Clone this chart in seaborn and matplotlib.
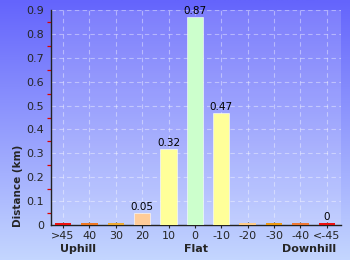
import numpy as np
import pandas as pd
import matplotlib
matplotlib.use("Agg")
import matplotlib.pyplot as plt
import seaborn as sns
from matplotlib.colors import LinearSegmentedColormap
from matplotlib.ticker import MultipleLocator, FixedLocator

categories = [">45", "40", "30", "20", "10", "0", "-10", "-20", "-30", "-40", "<-45"]
distances = [0.01, 0.01, 0.01, 0.05, 0.32, 0.87, 0.47, 0.008, 0.01, 0.01, 0.01]
bar_colors = ["#ee1111", "#ee7722", "#eeaa33", "#ffcc99", "#ffff99", "#ccffcc",
              "#ffff99", "#ffcc88", "#ee9911", "#ee7733", "#ee1111"]
labels_shown = {"20": "0.05", "10": "0.32", "0": "0.87", "-10": "0.47", "<-45": "0"}
group_labels = ["Uphill", "Flat", "Downhill"]

sns.set_style("white")
plt.rcParams['font.family'] = ['DejaVu Sans']

fig = plt.figure(figsize=(3.5, 2.6), dpi=100)

# background gradient
bg = fig.add_axes([0, 0, 1, 1], zorder=-10)
cmap = LinearSegmentedColormap.from_list("bg", ["#6464fc", "#c4d6ff"])
grad = np.linspace(0, 1, 256).reshape(-1, 1)
bg.imshow(grad, aspect="auto", cmap=cmap, extent=[0, 1, 0, 1], origin="upper")
bg.axis("off")

ax = fig.add_axes([51/350, 35/260, (341-51)/350, (225-10)/260])
ax.patch.set_facecolor("white")
ax.patch.set_alpha(0.15)

df = pd.DataFrame({"cat": categories, "dist": distances})
sns.barplot(data=df, x="cat", y="dist", hue="cat", palette=bar_colors,
            legend=False, ax=ax, width=0.62, saturation=1, zorder=3)

for c, p in zip(categories, ax.patches):
    p.set_edgecolor("white" if c in ("20", "10", "0", "-10") else "none")
    p.set_linewidth(0.4)

for i, c in enumerate(categories):
    if c in labels_shown:
        ax.text(i, distances[i] + 0.004, labels_shown[c], ha="center", va="bottom",
                fontsize=7.5, color="black", zorder=5)

ax.set_ylim(0, 0.9)
ax.set_xlim(-0.455, 10.54)
yt = np.round(np.arange(0, 0.91, 0.1), 1)
ax.set_yticks(yt)
ax.set_yticklabels([("0" if v == 0 else f"{v:.1f}") for v in yt])
ax.yaxis.set_minor_locator(FixedLocator(np.round(np.arange(0.05, 0.9, 0.1), 2)))
ax.tick_params(axis="y", which="major", direction="out", length=4, width=0.9,
               color="#222222", labelsize=8, pad=1)
ax.tick_params(axis="y", which="minor", direction="out", length=3, width=0.9,
               color="#dd0000", left=True)
ax.tick_params(axis="x", which="major", direction="inout", length=5, width=0.8,
               color="#222222", labelsize=8, pad=2, bottom=True)

ax.grid(True, axis="both", which="major", color="white", alpha=0.4,
        linestyle=(0, (4, 3)), linewidth=0.8, zorder=0)
ax.set_axisbelow(True)

for s in ["top", "right"]:
    ax.spines[s].set_visible(False)
for s in ["left", "bottom"]:
    ax.spines[s].set_color("#222222")
    ax.spines[s].set_linewidth(1.0)

ax.set_xlabel("")
ax.set_ylabel("")

fig.text(18/350, (260-186)/260, "Distance (km)", rotation=90, ha="center", va="center",
         fontsize=7.5, fontweight="bold")
fig.text(78/350, 1 - 249/260, group_labels[0], ha="center", va="center", fontsize=8, fontweight="bold")
fig.text(196/350, 1 - 249/260, group_labels[1], ha="center", va="center", fontsize=8, fontweight="bold")
fig.text(309/350, 1 - 249/260, group_labels[2], ha="center", va="center", fontsize=8, fontweight="bold")

fig.savefig("out.png", dpi=100)
